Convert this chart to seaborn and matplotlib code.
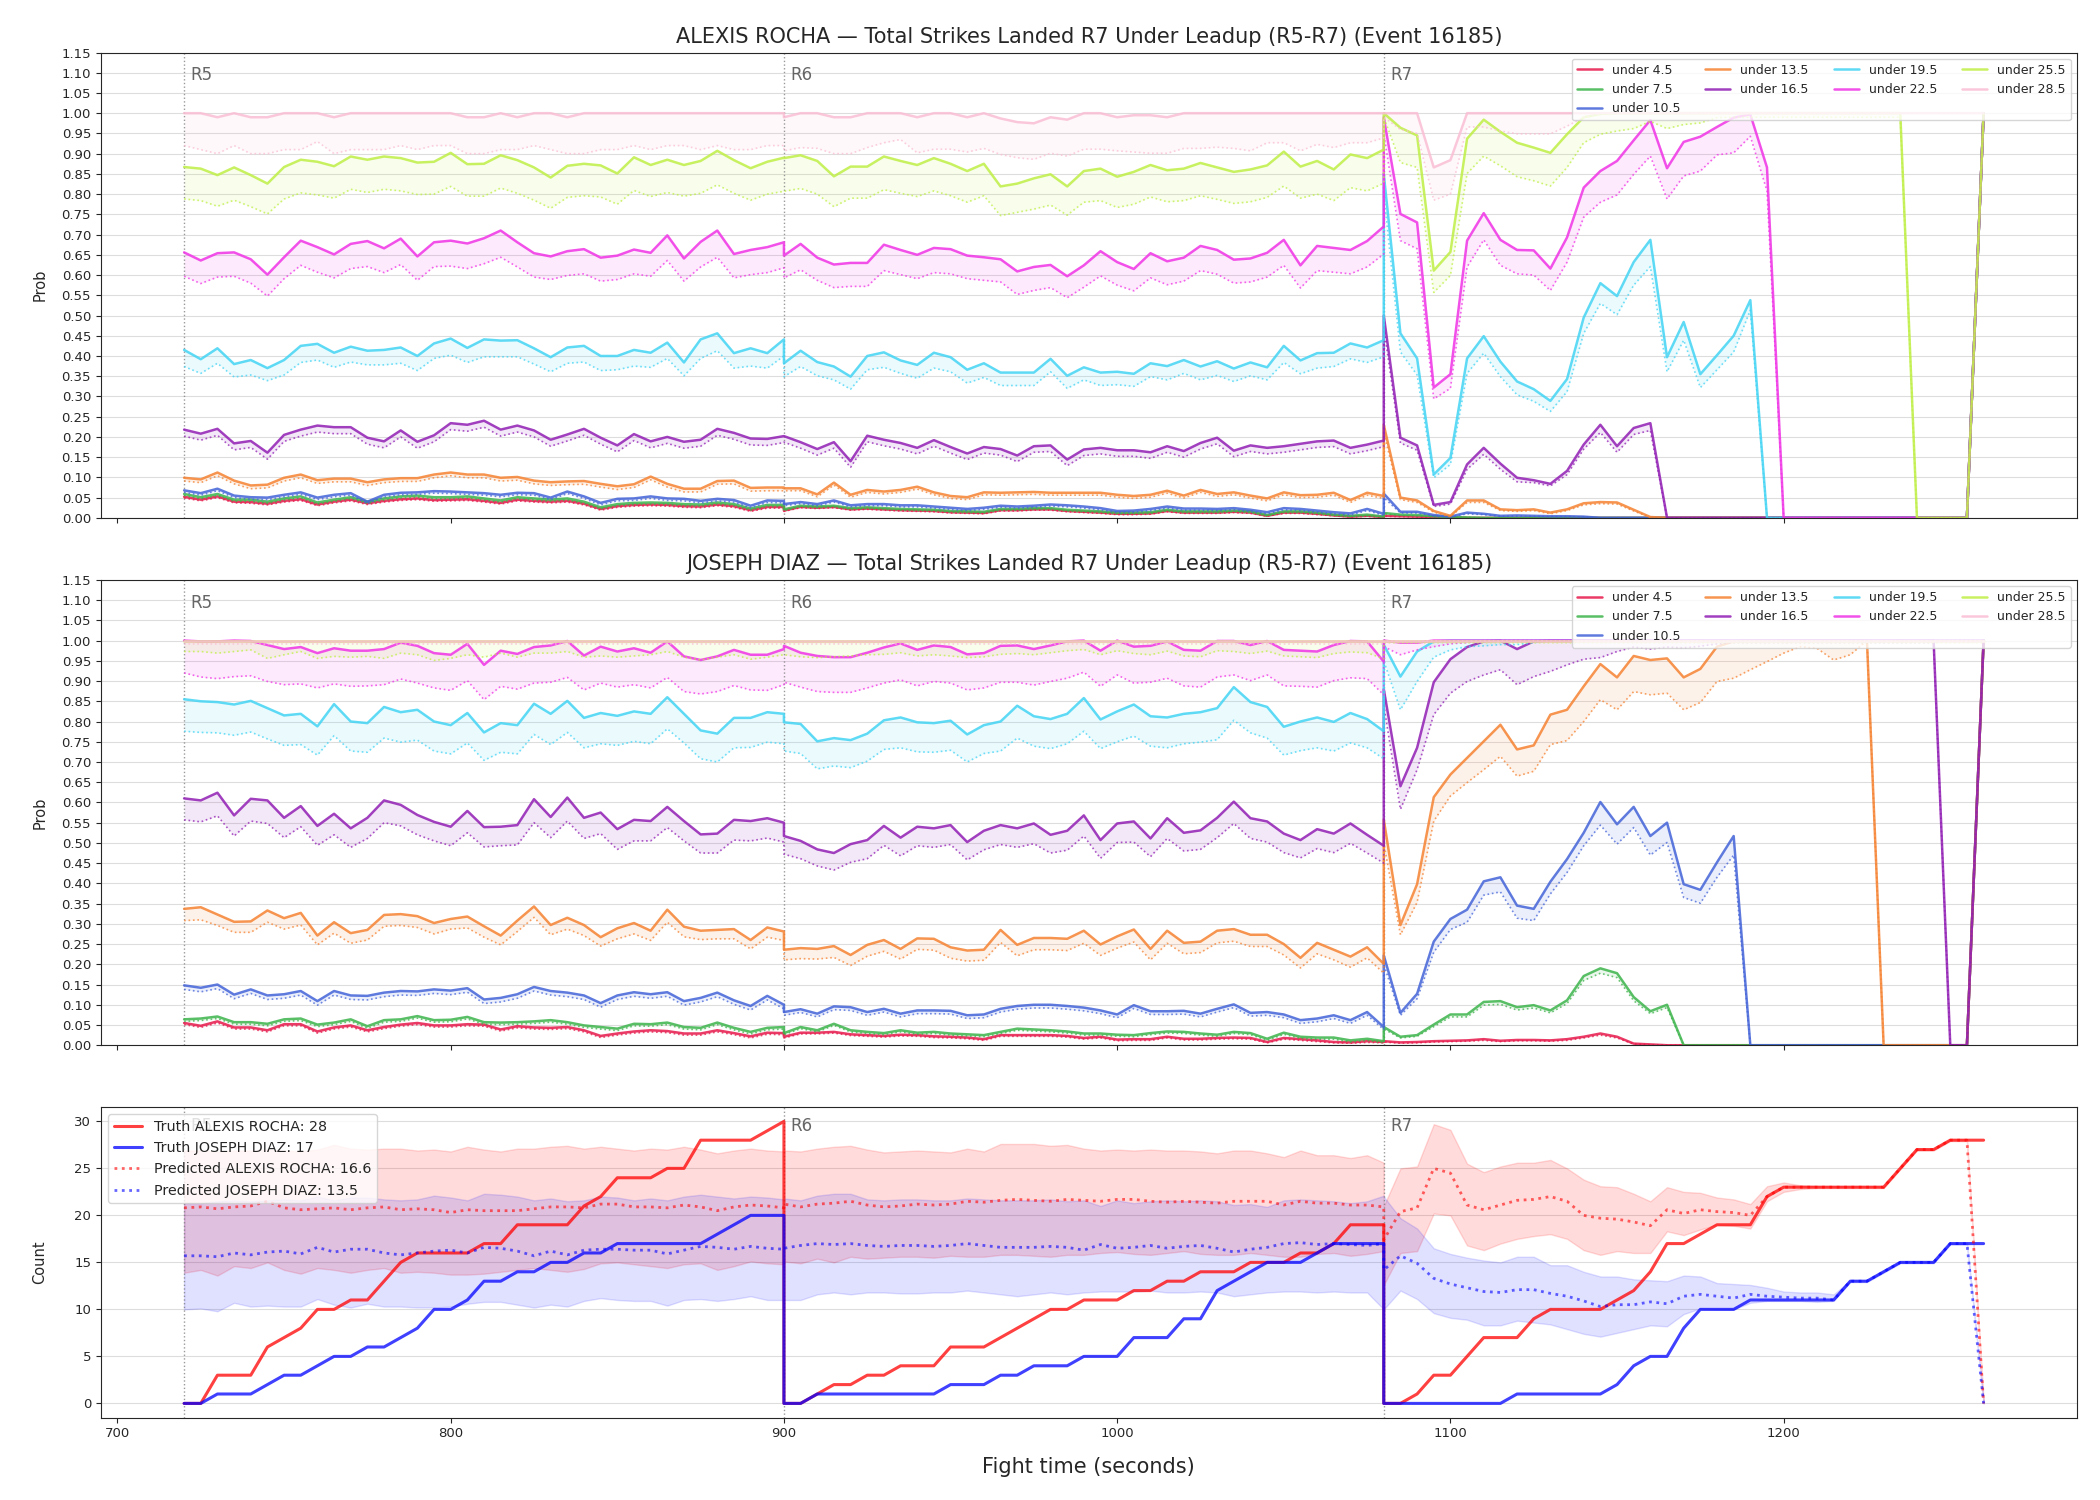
import numpy as np
import matplotlib
matplotlib.use("Agg")
import matplotlib.pyplot as plt
import matplotlib.transforms as mtransforms
import seaborn as sns

# ---------------------------------------------------------------------------
# Time grid: three rounds, one reading every 5 seconds (values in percent)
# ---------------------------------------------------------------------------
ROUND_STARTS = [720, 900, 1080]
ROUND_NAMES = ["R5", "R6", "R7"]
STEP = 5
POINTS_PER_ROUND = 37

THRESHOLDS = ["4.5", "7.5", "10.5", "13.5", "16.5", "19.5", "22.5", "25.5", "28.5"]
LINE_COLORS = ["#e6194b", "#3cb44b", "#4363d8", "#f58231", "#911eb4",
               "#42d4f4", "#f032e6", "#bfef45", "#fabed4"]

# ---------------- ALEXIS ROCHA, P(under X), solid (hi) and dotted (lo) -----
rocha_u45 = [
    [5.2, 4.5, 5.3, 4.0, 3.9, 3.5, 4.2, 4.6, 3.3, 4.0, 4.5, 3.6, 4.2, 4.6, 4.8, 4.4, 4.5, 4.6, 4.2, 3.7,
     4.5, 4.2, 4.0, 4.2, 3.5, 2.2, 2.9, 3.2, 3.3, 3.2, 2.9, 2.8, 3.3, 2.9, 1.9, 2.7, 2.7],
    [1.8, 2.7, 2.5, 2.7, 2.1, 2.3, 2.1, 1.9, 1.8, 1.7, 1.4, 1.3, 1.2, 1.9, 1.9, 2.1, 2.1, 1.7, 1.5, 1.3,
     1.0, 1.0, 1.1, 1.7, 1.3, 1.3, 1.3, 1.5, 1.3, 0.5, 1.3, 1.3, 1.0, 0.6, 0.3, 0.5, 0.2],
    [0.5, 0.4, 0.3, 0.2, 0.1,
     0, 0, 0, 0, 0, 0, 0, 0, 0, 0, 0, 0, 0, 0, 0, 0, 0, 0, 0, 0, 0, 0, 0, 0, 0, 0, 0, 0, 0, 0, 0,
     100],
]
rocha_u45_lo = [
    [4.9, 4.2, 5.0, 3.7, 3.6, 3.2, 3.9, 4.3, 3.0, 3.7, 4.2, 3.3, 3.9, 4.3, 4.5, 4.1, 4.2, 4.3, 3.9, 3.4,
     4.2, 3.9, 3.7, 3.9, 3.2, 1.9, 2.6, 2.9, 3.0, 2.9, 2.6, 2.5, 3.0, 2.6, 1.6, 2.4, 2.4],
    [1.6, 2.5, 2.3, 2.5, 1.9, 2.1, 1.9, 1.7, 1.6, 1.5, 1.2, 1.1, 1.0, 1.7, 1.7, 1.9, 1.9, 1.5, 1.3, 1.1,
     0.8, 0.8, 0.9, 1.5, 1.1, 1.1, 1.1, 1.3, 1.1, 0.4, 1.1, 1.1, 0.8, 0.5, 0.2, 0.4, 0.1],
    [0.4, 0.3, 0.2, 0.1, 0.1,
     0, 0, 0, 0, 0, 0, 0, 0, 0, 0, 0, 0, 0, 0, 0, 0, 0, 0, 0, 0, 0, 0, 0, 0, 0, 0, 0, 0, 0, 0, 0,
     100],
]
rocha_u75 = [
    [5.9, 5.1, 5.9, 4.5, 4.5, 4.0, 4.8, 5.3, 3.8, 4.5, 5.1, 4.0, 4.8, 5.3, 5.5, 5.1, 5.1, 5.3, 4.8, 4.3,
     5.1, 4.8, 4.5, 4.8, 4.0, 2.6, 3.4, 3.7, 3.8, 3.7, 3.4, 3.3, 3.8, 3.4, 2.3, 3.2, 3.2],
    [2.1, 3.0, 2.8, 3.0, 2.4, 2.6, 2.4, 2.2, 2.1, 2.0, 1.7, 1.6, 1.5, 2.2, 2.2, 2.4, 2.4, 2.0, 1.8, 1.6,
     1.3, 1.3, 1.4, 2.0, 1.6, 1.6, 1.6, 1.8, 1.6, 0.7, 1.6, 1.6, 1.3, 0.8, 0.5, 0.8, 0.3],
    [1.2, 0.8, 0.7, 0.4, 0.2, 0.1,
     0, 0, 0, 0, 0, 0, 0, 0, 0, 0, 0, 0, 0, 0, 0, 0, 0, 0, 0, 0, 0, 0, 0, 0, 0, 0, 0, 0, 0, 0,
     100],
]
rocha_u75_lo = [
    [5.5, 4.7, 5.5, 4.1, 4.1, 3.6, 4.4, 4.9, 3.4, 4.1, 4.7, 3.6, 4.4, 4.9, 5.1, 4.7, 4.7, 4.9, 4.4, 3.9,
     4.7, 4.4, 4.1, 4.4, 3.6, 2.2, 3.0, 3.3, 3.4, 3.3, 3.0, 2.9, 3.4, 3.0, 1.9, 2.8, 2.8],
    [1.8, 2.7, 2.5, 2.7, 2.1, 2.3, 2.1, 1.9, 1.8, 1.7, 1.4, 1.3, 1.2, 1.9, 1.9, 2.1, 2.1, 1.7, 1.5, 1.3,
     1.0, 1.0, 1.1, 1.7, 1.3, 1.3, 1.3, 1.5, 1.3, 0.5, 1.3, 1.3, 1.0, 0.6, 0.3, 0.5, 0.2],
    [1.0, 0.6, 0.5, 0.3, 0.1, 0.1,
     0, 0, 0, 0, 0, 0, 0, 0, 0, 0, 0, 0, 0, 0, 0, 0, 0, 0, 0, 0, 0, 0, 0, 0, 0, 0, 0, 0, 0, 0,
     100],
]
rocha_u105 = [
    [6.8, 6.1, 7.2, 5.5, 5.1, 5.0, 5.7, 6.3, 5.0, 5.7, 6.1, 4.0, 5.7, 6.2, 6.3, 6.6, 6.5, 6.3, 6.1, 5.7,
     6.2, 6.1, 5.0, 6.5, 5.3, 3.7, 4.7, 4.8, 5.3, 4.8, 4.7, 4.2, 4.7, 4.4, 3.0, 4.3, 4.2],
    [3.4, 3.9, 3.4, 4.3, 3.1, 3.4, 3.4, 3.1, 3.1, 2.8, 2.5, 2.2, 2.5, 3.0, 2.8, 3.0, 3.3, 3.1, 2.8, 2.4,
     1.7, 1.8, 2.2, 2.8, 2.3, 2.3, 2.2, 2.4, 2.0, 1.4, 2.4, 2.2, 1.8, 1.4, 1.1, 2.2, 1.0],
    [6.0, 1.5, 1.5, 0.7, 0.3, 1.3, 1.0, 0.5, 0.6, 0.5, 0.4, 0.4, 0.3,
     0, 0, 0, 0, 0, 0, 0, 0, 0, 0, 0, 0, 0, 0, 0, 0, 0, 0, 0, 0, 0, 0, 0,
     100],
]
rocha_u105_lo = [
    [6.3, 5.6, 6.7, 5.0, 4.6, 4.5, 5.2, 5.8, 4.5, 5.2, 5.6, 3.5, 5.2, 5.7, 5.8, 6.1, 6.0, 5.8, 5.6, 5.2,
     5.7, 5.6, 4.5, 6.0, 4.8, 3.2, 4.2, 4.3, 4.8, 4.3, 4.2, 3.7, 4.2, 3.9, 2.5, 3.8, 3.7],
    [3.0, 3.5, 3.0, 3.9, 2.7, 3.0, 3.0, 2.7, 2.7, 2.4, 2.1, 1.8, 2.1, 2.6, 2.4, 2.6, 2.9, 2.7, 2.4, 2.0,
     1.3, 1.4, 1.8, 2.4, 1.9, 1.9, 1.8, 2.0, 1.6, 1.0, 2.0, 1.8, 1.4, 1.0, 0.7, 1.8, 0.6],
    [5.0, 1.2, 1.2, 0.5, 0.2, 1.0, 0.8, 0.4, 0.4, 0.4, 0.3, 0.3, 0.2,
     0, 0, 0, 0, 0, 0, 0, 0, 0, 0, 0, 0, 0, 0, 0, 0, 0, 0, 0, 0, 0, 0, 0,
     100],
]
rocha_u135 = [
    [9.9, 9.5, 11.2, 9.2, 8.0, 8.2, 9.9, 10.7, 9.3, 9.7, 9.7, 8.8, 9.5, 9.8, 9.8, 10.7, 11.2, 10.7, 10.7, 9.9,
     10.1, 9.2, 8.8, 9.0, 9.1, 8.4, 7.8, 8.3, 10.2, 8.4, 7.2, 7.2, 9.1, 9.2, 7.4, 7.5, 7.5],
    [7.3, 7.3, 5.8, 8.7, 5.7, 6.9, 6.5, 6.9, 7.7, 6.3, 5.4, 5.1, 6.3, 6.2, 6.3, 6.4, 6.2, 6.2, 6.2, 6.2,
     5.7, 5.4, 5.7, 6.7, 5.5, 6.9, 5.9, 6.3, 5.5, 4.8, 6.3, 5.6, 5.7, 6.2, 4.4, 6.2, 5.4],
    [23, 5.0, 4.3, 1.7, 0.5, 4.3, 4.3, 2.1, 1.9, 2.1, 1.3, 2.1, 3.6, 3.9, 3.8, 2.0, 0.2,
     0, 0, 0, 0, 0, 0, 0, 0, 0, 0, 0, 0, 0, 0, 0, 0, 0, 0, 0,
     100],
]
rocha_u135_lo = [
    [9.1, 8.7, 10.4, 8.4, 7.2, 7.4, 9.1, 9.9, 8.5, 8.9, 8.9, 8.0, 8.7, 9.0, 9.0, 9.9, 10.4, 9.9, 9.9, 9.1,
     9.3, 8.4, 8.0, 8.2, 8.3, 7.6, 7.0, 7.5, 9.4, 7.6, 6.4, 6.4, 8.3, 8.4, 6.6, 6.7, 6.7],
    [6.7, 6.7, 5.2, 8.1, 5.1, 6.3, 5.9, 6.3, 7.1, 5.7, 4.8, 4.5, 5.7, 5.6, 5.7, 5.8, 5.6, 5.6, 5.6, 5.6,
     5.1, 4.8, 5.1, 6.1, 4.9, 6.3, 5.3, 5.7, 4.9, 4.2, 5.7, 5.0, 5.1, 5.6, 3.8, 5.6, 4.8],
    [21, 4.5, 3.8, 1.4, 0.3, 3.8, 3.8, 1.8, 1.6, 1.8, 1.0, 1.8, 3.2, 3.5, 3.4, 1.7, 0.1,
     0, 0, 0, 0, 0, 0, 0, 0, 0, 0, 0, 0, 0, 0, 0, 0, 0, 0, 0,
     100],
]
rocha_u165 = [
    [21.8, 20.8, 22.0, 18.4, 19.0, 16.1, 20.5, 21.8, 22.8, 22.4, 22.4, 19.8, 18.9, 21.6, 18.8, 20.4, 23.4,
     23.0, 24.0, 21.8, 22.8, 21.6, 19.3, 20.6, 22.0, 19.8, 17.9, 20.7, 18.9, 20.0, 18.8, 19.3, 22.0, 21.0,
     19.6, 19.5, 20.2],
    [20.2, 18.7, 17.0, 18.7, 14.0, 20.3, 19.3, 18.5, 17.3, 19.2, 17.5, 15.9, 17.5, 17.0, 15.4, 17.7, 17.9,
     14.4, 16.9, 17.3, 16.7, 16.7, 16.2, 17.7, 16.5, 18.5, 19.8, 16.6, 17.9, 17.3, 17.7, 18.3, 18.9, 19.1,
     17.3, 18.1, 19.1],
    [50, 19.8, 17.9, 3.2, 3.9, 13.2, 17.3, 13.4, 9.9, 9.3, 8.4, 11.6, 18.1, 23.0, 17.7, 22.2, 23.4,
     0, 0, 0, 0, 0, 0, 0, 0, 0, 0, 0, 0, 0, 0, 0, 0, 0, 0, 0,
     100],
]
rocha_u165_lo = [
    [20.2, 19.2, 20.4, 16.8, 17.4, 14.5, 18.9, 20.2, 21.2, 20.8, 20.8, 18.2, 17.3, 20.0, 17.2, 18.8, 21.8,
     21.4, 22.4, 20.2, 21.2, 20.0, 17.7, 19.0, 20.4, 18.2, 16.3, 19.1, 17.3, 18.4, 17.2, 17.7, 20.4, 19.4,
     18.0, 17.9, 18.6],
    [18.7, 17.2, 15.5, 17.2, 12.5, 18.8, 17.8, 17.0, 15.8, 17.7, 16.0, 14.4, 16.0, 15.5, 13.9, 16.2, 16.4,
     12.9, 15.4, 15.8, 15.2, 15.2, 14.7, 16.2, 15.0, 17.0, 18.3, 15.1, 16.4, 15.8, 16.2, 16.8, 17.4, 17.6,
     15.8, 16.6, 17.6],
    [47, 18.5, 16.7, 2.8, 3.4, 12.0, 15.7, 12.0, 8.9, 8.7, 7.9, 10.7, 17.0, 21.1, 16.2, 20.6, 21.6,
     0, 0, 0, 0, 0, 0, 0, 0, 0, 0, 0, 0, 0, 0, 0, 0, 0, 0, 0,
     100],
]
rocha_u195 = [
    [41.5, 39.2, 41.9, 38.0, 39.0, 37.0, 39.0, 42.5, 43.0, 40.8, 42.3, 41.3, 41.5, 42.1, 40.0, 43.1, 44.3,
     42.0, 44.1, 43.8, 43.9, 41.9, 39.7, 42.1, 42.5, 40.0, 40.0, 41.5, 40.8, 43.3, 38.4, 44.1, 45.6, 40.7,
     41.9, 40.7, 44.1],
    [38.2, 41.3, 38.5, 37.4, 34.9, 40.0, 40.9, 38.9, 37.8, 40.8, 39.7, 36.6, 38.2, 35.9, 35.9, 35.9, 39.3,
     35.1, 37.2, 35.9, 36.1, 35.6, 38.2, 37.5, 39.0, 37.4, 38.7, 36.9, 38.4, 37.2, 42.5, 38.9, 40.7, 40.8,
     43.1, 42.1, 43.9],
    [85, 45.6, 39.4, 10.7, 14.8, 39.4, 44.9, 38.6, 33.7, 31.8, 28.9, 34.3, 49.5, 58.0, 54.8, 63.2, 68.7,
     39.7, 48.4, 35.5, 40.2, 45.0, 53.8,
     0, 0, 0, 0, 0, 0, 0, 0, 0, 0, 0, 0, 0,
     100],
]
rocha_u195_lo = [
    [37.4, 35.7, 38.2, 34.8, 35.3, 33.9, 35.3, 38.4, 39.0, 37.2, 38.5, 37.8, 37.8, 38.2, 36.4, 39.4, 40.2,
     38.4, 39.8, 39.8, 39.8, 38.0, 36.1, 38.2, 38.5, 36.4, 36.6, 37.5, 37.2, 39.4, 35.1, 39.4, 41.3, 37.0,
     37.5, 37.0, 40.0],
    [34.9, 37.4, 35.1, 34.1, 31.8, 36.6, 37.2, 35.7, 34.5, 37.0, 36.1, 33.3, 34.7, 32.7, 32.7, 32.7, 36.1,
     32.0, 34.1, 32.7, 32.9, 32.5, 34.9, 34.1, 35.7, 34.1, 35.2, 33.7, 35.1, 34.1, 38.4, 35.6, 37.0, 37.4,
     39.3, 38.4, 39.8],
    [80, 41.0, 35.3, 9.9, 13.2, 35.7, 40.7, 34.9, 30.4, 28.8, 26.3, 31.2, 45.6, 53.0, 50.2, 57.5, 62.1,
     36.1, 43.9, 32.2, 36.6, 41.0, 51.3,
     0, 0, 0, 0, 0, 0, 0, 0, 0, 0, 0, 0, 0,
     100],
]
rocha_u225 = [
    [65.6, 63.6, 65.4, 65.6, 63.9, 60.1, 64.4, 68.5, 66.9, 65.1, 67.7, 68.4, 66.6, 69.0, 64.6, 68.1, 68.5,
     67.8, 69.1, 71.0, 68.1, 65.4, 64.6, 65.9, 66.4, 64.3, 64.8, 66.3, 65.5, 69.8, 64.1, 68.2, 71.0, 65.2,
     66.2, 66.9, 68.1],
    [64.8, 67.7, 64.3, 62.6, 63.0, 63.0, 67.5, 66.2, 65.0, 66.7, 66.4, 64.8, 64.4, 63.9, 60.9, 62.0, 62.5,
     59.7, 62.4, 65.9, 63.2, 61.5, 65.4, 63.4, 64.3, 67.2, 66.2, 63.8, 64.1, 65.5, 68.7, 62.4, 67.2, 66.7,
     66.2, 68.4, 72.0],
    [99, 75.1, 73.0, 32.2, 35.5, 68.5, 75.3, 68.7, 66.2, 66.1, 61.6, 69.3, 81.6, 85.7, 88.2, 93.3, 98.3,
     86.4, 92.9, 94.2, 96.6, 98.9, 99.7, 86.6,
     0, 0, 0, 0, 0, 0, 0, 0, 0, 0, 0, 0,
     100],
]
rocha_u225_lo = [
    [59.7, 57.9, 59.5, 59.7, 58.0, 54.8, 59.1, 62.4, 60.7, 59.3, 61.6, 62.1, 60.6, 62.6, 58.7, 62.1, 62.2,
     61.6, 62.8, 64.4, 62.0, 59.5, 58.9, 59.9, 60.3, 58.5, 58.9, 60.3, 59.7, 63.6, 58.5, 62.0, 64.4, 59.3,
     60.1, 60.6, 61.8],
    [59.3, 61.3, 58.7, 56.9, 57.2, 57.2, 61.1, 60.1, 59.1, 60.6, 60.3, 59.1, 58.7, 58.3, 55.2, 56.2, 56.9,
     54.4, 57.0, 59.8, 57.5, 56.1, 59.3, 57.6, 58.5, 61.1, 60.2, 58.0, 58.3, 59.5, 62.4, 56.8, 61.1, 60.7,
     60.3, 62.0, 65.2],
    [95, 68.5, 66.5, 29.4, 32.0, 62.0, 68.7, 62.4, 60.3, 60.0, 56.2, 63.2, 74.3, 78.0, 79.8, 84.9, 89.4,
     78.8, 84.5, 85.7, 89.7, 90.2, 94.3, 80.8,
     0, 0, 0, 0, 0, 0, 0, 0, 0, 0, 0, 0,
     100],
]
rocha_u255 = [
    [86.7, 86.3, 84.7, 86.6, 84.7, 82.6, 86.7, 88.5, 88.0, 86.9, 89.3, 88.5, 89.3, 88.9, 87.8, 88.0, 90.2,
     87.4, 87.5, 89.6, 88.4, 86.6, 84.1, 87.0, 87.5, 87.1, 85.1, 89.1, 87.2, 88.5, 87.2, 88.2, 90.7, 88.4,
     86.4, 88.0, 89.0],
    [88.9, 89.6, 88.2, 84.4, 86.8, 86.8, 89.3, 88.2, 87.2, 88.9, 87.5, 85.7, 87.5, 81.9, 82.6, 83.9, 84.9,
     81.9, 85.7, 86.3, 84.3, 85.5, 87.2, 85.9, 86.3, 87.7, 86.6, 85.5, 86.1, 87.1, 90.5, 86.8, 88.2, 86.1,
     89.8, 88.9, 91.0],
    [100, 96.4, 94.5, 61.1, 65.7, 93.7, 98.4, 95.4, 92.7, 91.5, 90.2, 94.8, 99.0, 99.8,
     100, 100, 100, 100, 100, 100, 100, 100, 100, 100, 100, 100, 100, 100, 100, 100, 100, 100,
     0, 0, 0, 0,
     100],
]
rocha_u255_lo = [
    [78.8, 78.4, 77.0, 78.5, 76.9, 75.1, 78.8, 80.3, 79.8, 79.0, 81.2, 80.4, 81.2, 80.8, 79.9, 80.0, 81.9,
     79.5, 79.5, 81.5, 80.2, 78.5, 76.5, 79.2, 79.6, 79.3, 77.5, 80.9, 79.4, 80.4, 79.5, 80.2, 82.3, 80.2,
     78.5, 80.0, 80.7],
    [80.7, 81.4, 80.0, 76.9, 79.0, 79.0, 81.1, 80.2, 79.4, 80.8, 79.6, 78.0, 79.6, 74.7, 75.5, 76.3, 77.3,
     74.8, 78.0, 78.4, 76.7, 77.5, 79.3, 78.1, 78.4, 79.6, 78.7, 77.7, 78.1, 79.2, 82.0, 79.0, 80.0, 78.4,
     81.6, 80.8, 82.7],
    [99, 87.8, 86.6, 55.7, 59.9, 85.1, 89.4, 87.0, 84.3, 83.3, 82.0, 86.6, 92.7, 94.8, 95.6, 96.2, 98.0,
     96.2, 97.2, 97.6, 98.9, 99, 99, 99, 99, 99, 99, 99, 99, 99, 99, 99,
     0, 0, 0, 0,
     100],
]
rocha_u285 = [
    [100, 100, 99, 100, 99, 99, 100, 100, 100, 99, 100, 100, 100, 100, 100, 100, 100, 99, 99, 100,
     99, 100, 100, 99, 100, 100, 100, 100, 100, 100, 100, 100, 100, 100, 100, 100, 100],
    [99, 100, 100, 99, 99, 100, 100, 100, 99, 100, 100, 99, 100, 98.7, 97.8, 97.5, 99, 98.4, 100, 100,
     99, 99.5, 99.5, 99, 100, 100, 100, 100, 100, 100, 100, 100, 100, 100, 100, 100, 100],
    [100, 100, 100, 86.6, 88.4, 100, 100, 100, 100, 100, 100, 100, 100, 100, 100, 100, 100, 100, 100, 100,
     100, 100, 100, 100, 100, 100, 100, 100, 100, 100, 100, 100, 100, 100, 100, 100, 100],
]
rocha_u285_lo = [
    [92, 91, 90, 92, 90, 90, 91, 91, 93, 90, 91, 91, 91, 92, 91, 92, 92, 90, 90, 91,
     91, 92, 91, 90, 90, 91, 91, 92, 91, 92, 92, 91, 92, 91, 91, 92, 92],
    [90.7, 91.5, 91.3, 90, 90, 91.5, 92.7, 93.5, 90.2, 91.1, 91.1, 90.4, 91.3, 89.8, 89, 88.6, 90.1, 89.4,
     91.1, 91.1, 90.7, 90.4, 90.1, 90.1, 91.3, 91.3, 91.6, 91.3, 90.7, 92.7, 92.7, 90.7, 92.3, 91.5, 92.7,
     92.7, 93.9],
    [99, 96, 95, 78.5, 80, 96.6, 96.6, 95.6, 94.9, 94.9, 94.9, 96.8, 99,
     100, 100, 100, 100, 100, 100, 100, 100, 100, 100, 100, 100, 100, 100, 100, 100, 100, 100, 100, 100,
     100, 100, 100, 100],
]

# ---------------- JOSEPH DIAZ, P(under X) ----------------------------------
diaz_u45 = [
    [5.5, 4.8, 5.9, 4.4, 4.4, 3.7, 5.2, 5.2, 3.4, 4.4, 4.9, 3.7, 4.5, 5.1, 5.5, 4.9, 4.9, 5.2, 5.1, 3.9,
     4.7, 4.4, 4.3, 4.5, 3.7, 2.3, 2.9, 3.4, 3.7, 3.5, 2.9, 2.9, 3.7, 3.0, 2.2, 3.1, 3.0],
    [2.1, 3.1, 3.1, 3.3, 2.7, 2.5, 2.3, 2.6, 2.5, 2.2, 2.1, 1.9, 1.5, 2.5, 2.5, 2.5, 2.5, 2.3, 1.8, 2.1,
     1.4, 1.5, 1.5, 2.1, 1.6, 1.6, 1.8, 1.9, 1.8, 0.8, 1.8, 1.5, 1.2, 0.8, 0.7, 1.0, 0.8],
    [1.0, 0.7, 0.8, 1.0, 1.1, 1.2, 1.5, 1.1, 1.3, 1.3, 1.2, 1.5, 2.1, 2.9, 2.1, 0.4, 0.2,
     0, 0, 0, 0, 0, 0, 0, 0, 0, 0, 0, 0, 0, 0, 0, 0, 0, 0, 0,
     100],
]
diaz_u45_lo = [
    [5.1, 4.4, 5.5, 4.0, 4.0, 3.3, 4.8, 4.8, 3.0, 4.0, 4.5, 3.3, 4.1, 4.7, 5.1, 4.5, 4.5, 4.8, 4.7, 3.5,
     4.3, 4.0, 3.9, 4.1, 3.3, 1.9, 2.5, 3.0, 3.3, 3.1, 2.5, 2.5, 3.3, 2.6, 1.8, 2.7, 2.6],
    [1.8, 2.8, 2.8, 3.0, 2.4, 2.2, 2.0, 2.3, 2.2, 1.9, 1.8, 1.6, 1.2, 2.2, 2.2, 2.2, 2.2, 2.0, 1.5, 1.8,
     1.1, 1.2, 1.2, 1.8, 1.3, 1.3, 1.5, 1.6, 1.5, 0.6, 1.5, 1.2, 0.9, 0.6, 0.5, 0.7, 0.6],
    [0.8, 0.5, 0.6, 0.8, 0.9, 1.0, 1.2, 0.9, 1.1, 1.1, 1.0, 1.2, 1.8, 2.5, 1.8, 0.3, 0.1,
     0, 0, 0, 0, 0, 0, 0, 0, 0, 0, 0, 0, 0, 0, 0, 0, 0, 0, 0,
     100],
]
diaz_u75 = [
    [6.4, 6.6, 7.1, 5.7, 5.7, 5.3, 6.4, 6.6, 5.1, 5.6, 6.4, 4.7, 6.2, 6.4, 7.2, 6.2, 6.3, 7.0, 5.7, 5.6,
     5.7, 5.9, 6.2, 5.7, 4.9, 4.5, 4.1, 5.3, 5.2, 5.6, 4.5, 4.3, 5.6, 4.3, 3.3, 4.3, 4.5],
    [3.0, 4.5, 3.7, 5.3, 3.7, 3.3, 3.0, 3.7, 3.1, 3.3, 2.9, 2.7, 2.5, 3.3, 4.1, 3.9, 3.7, 3.4, 2.9, 2.9,
     2.6, 2.5, 3.0, 3.4, 3.3, 2.9, 2.6, 3.3, 3.0, 1.6, 3.1, 2.1, 1.9, 1.9, 1.2, 1.6, 1.0],
    [4.5, 2.1, 2.5, 5.1, 7.6, 7.6, 10.7, 10.9, 9.4, 9.9, 8.6, 11.1, 17.1, 19.0, 17.8, 11.9, 8.4, 10.0,
     0, 0, 0, 0, 0, 0, 0, 0, 0, 0, 0, 0, 0, 0, 0, 0, 0, 0,
     100],
]
diaz_u75_lo = [
    [5.9, 6.1, 6.6, 5.2, 5.2, 4.8, 5.9, 6.1, 4.6, 5.1, 5.9, 4.2, 5.7, 5.9, 6.7, 5.7, 5.8, 6.5, 5.2, 5.1,
     5.2, 5.4, 5.7, 5.2, 4.4, 4.0, 3.6, 4.8, 4.7, 5.1, 4.0, 3.8, 5.1, 3.8, 2.8, 3.8, 4.0],
    [2.6, 4.1, 3.3, 4.9, 3.3, 2.9, 2.6, 3.3, 2.7, 2.9, 2.5, 2.3, 2.1, 2.9, 3.7, 3.5, 3.3, 3.0, 2.5, 2.5,
     2.2, 2.1, 2.6, 3.0, 2.9, 2.5, 2.2, 2.9, 2.6, 1.2, 2.7, 1.7, 1.5, 1.5, 0.8, 1.2, 0.6],
    [4.0, 1.8, 2.2, 4.6, 7.0, 7.0, 9.9, 10.1, 8.7, 9.2, 8.0, 10.3, 16.0, 17.8, 16.7, 11.0, 7.8, 9.3,
     0, 0, 0, 0, 0, 0, 0, 0, 0, 0, 0, 0, 0, 0, 0, 0, 0, 0,
     100],
]
diaz_u105 = [
    [14.8, 14.2, 15.0, 12.5, 13.8, 12.3, 12.6, 13.4, 10.9, 13.4, 12.3, 12.2, 13.0, 13.4, 13.3, 13.8, 13.5,
     14.1, 11.3, 11.7, 12.6, 14.4, 13.4, 13.0, 12.3, 10.4, 12.3, 13.1, 12.6, 13.1, 10.9, 11.7, 13.0, 11.1,
     9.7, 12.2, 10.0],
    [8.2, 8.9, 7.8, 9.6, 9.4, 8.2, 9.0, 7.8, 8.6, 8.6, 8.5, 7.4, 7.6, 9.0, 9.7, 10.0, 10.0, 9.7, 9.3, 8.6,
     7.6, 9.9, 8.4, 8.4, 8.5, 7.8, 9.0, 10.1, 8.0, 8.2, 7.6, 6.2, 6.6, 7.4, 6.2, 8.2, 4.5],
    [22.2, 8.0, 12.7, 25.6, 31.2, 33.5, 40.5, 41.5, 34.5, 33.7, 40.4, 46.0, 52.5, 60.1, 54.6, 58.9, 51.7,
     55.0, 39.8, 38.4, 45.2, 51.7,
     0, 0, 0, 0, 0, 0, 0, 0, 0, 0, 0, 0, 0, 0,
     100],
]
diaz_u105_lo = [
    [13.8, 13.2, 14.0, 11.5, 12.8, 11.3, 11.6, 12.4, 9.9, 12.4, 11.3, 11.2, 12.0, 12.4, 12.3, 12.8, 12.5,
     13.1, 10.3, 10.7, 11.6, 13.4, 12.4, 12.0, 11.3, 9.4, 11.3, 12.1, 11.6, 12.1, 9.9, 10.7, 12.0, 10.1,
     8.7, 11.2, 9.0],
    [7.4, 8.1, 7.0, 8.8, 8.6, 7.4, 8.2, 7.0, 7.8, 7.8, 7.7, 6.6, 6.8, 8.2, 8.9, 9.2, 9.2, 8.9, 8.5, 7.8,
     6.8, 9.1, 7.6, 7.6, 7.7, 7.0, 8.2, 9.3, 7.2, 7.4, 6.8, 5.4, 5.8, 6.6, 5.4, 7.4, 3.9],
    [20.0, 7.4, 11.5, 23.0, 28.6, 30.4, 37.1, 37.9, 31.4, 30.8, 37.4, 42.7, 49.3, 54.4, 49.7, 53.8, 47.0,
     50.1, 36.5, 35.1, 41.5, 47.0,
     0, 0, 0, 0, 0, 0, 0, 0, 0, 0, 0, 0, 0, 0,
     100],
]
diaz_u135 = [
    [33.7, 34.1, 32.3, 30.5, 30.6, 33.3, 31.4, 32.7, 27.1, 30.4, 27.7, 28.5, 32.2, 32.4, 31.9, 30.2, 31.2,
     31.8, 29.4, 27.1, 30.8, 34.3, 29.7, 31.5, 29.7, 26.7, 28.9, 30.2, 28.3, 33.5, 29.3, 28.3, 28.5, 28.7,
     26.0, 29.1, 28.1],
    [23.6, 24.0, 23.8, 24.5, 22.3, 24.8, 26.0, 23.8, 26.4, 26.3, 24.2, 23.4, 23.6, 28.5, 24.8, 26.5, 26.5,
     26.3, 28.3, 24.9, 26.9, 28.6, 23.8, 28.3, 25.3, 25.6, 28.3, 28.7, 27.3, 27.3, 25.0, 21.6, 25.3, 23.6,
     21.9, 24.2, 20.1],
    [55.8, 29.7, 39.8, 61.3, 66.9, 71.0, 75.1, 79.2, 73.1, 74.1, 81.7, 82.9, 88.7, 94.2, 90.9, 96.2, 95.2,
     95.6, 90.9, 93.0, 98.5, 99.8, 100, 100, 100, 100, 100, 100, 100, 100,
     0, 0, 0, 0, 0, 0,
     100],
]
diaz_u135_lo = [
    [30.8, 31.0, 29.6, 27.9, 27.9, 30.4, 28.7, 29.7, 24.8, 27.7, 25.2, 26.0, 29.4, 29.6, 29.1, 27.5, 28.7,
     29.0, 26.7, 24.8, 28.1, 31.6, 27.3, 28.7, 27.1, 24.5, 26.3, 27.5, 25.9, 30.4, 26.8, 26.1, 26.3, 26.3,
     23.8, 26.7, 25.9],
    [21.1, 21.4, 21.3, 21.7, 19.7, 22.0, 23.2, 21.3, 23.7, 23.5, 21.5, 20.8, 21.0, 25.4, 22.1, 23.6, 23.6,
     23.4, 25.2, 22.2, 24.0, 25.5, 21.1, 25.2, 22.6, 22.9, 25.3, 25.7, 24.4, 24.4, 22.3, 19.1, 22.6, 21.1,
     19.3, 21.6, 17.8],
    [50.0, 27.3, 35.3, 55.4, 61.6, 64.9, 68.1, 71.4, 66.5, 67.7, 74.3, 75.3, 80.0, 85.4, 82.9, 87.4, 86.6,
     87.0, 82.9, 84.7, 89.9, 90.7, 92.8, 94.8, 96.9, 98.5, 98.1, 95.2, 96.5, 100,
     0, 0, 0, 0, 0, 0,
     100],
]
diaz_u165 = [
    [61.0, 60.5, 62.4, 56.8, 60.9, 60.5, 56.2, 59.1, 54.2, 57.2, 53.6, 56.2, 60.5, 59.4, 56.9, 55.2, 54.0,
     57.9, 53.9, 54.0, 54.4, 60.8, 56.4, 61.2, 56.2, 57.5, 53.4, 55.7, 55.4, 58.9, 55.4, 52.1, 52.3, 55.7,
     55.4, 56.1, 55.0],
    [51.7, 50.5, 48.4, 47.5, 49.7, 50.7, 54.2, 51.3, 54.0, 53.6, 54.4, 50.2, 53.0, 54.4, 53.6, 54.8, 52.0,
     53.0, 56.8, 50.7, 54.8, 55.3, 51.1, 56.1, 52.5, 53.1, 56.2, 60.2, 56.1, 55.3, 52.3, 50.7, 53.4, 52.3,
     54.8, 52.0, 49.3],
    [88, 64.0, 73.5, 89.7, 95.4, 98.4, 99.8, 100, 97.9, 99.8,
     100, 100, 100, 100, 100, 100, 100, 100, 100, 100, 100, 100, 100, 100, 100, 100, 100, 100, 100, 100,
     100, 100, 100, 100,
     0, 0,
     100],
]
diaz_u165_lo = [
    [55.7, 55.2, 56.7, 51.7, 55.4, 54.8, 51.3, 54.0, 49.4, 52.0, 48.9, 51.1, 55.0, 54.2, 52.0, 50.5, 49.3,
     52.5, 49.0, 49.3, 49.5, 55.0, 51.3, 55.4, 51.1, 52.3, 48.4, 50.5, 50.5, 53.8, 50.5, 47.5, 47.5, 50.7,
     50.5, 51.2, 50.2],
    [47.2, 46.1, 44.3, 43.3, 45.2, 46.1, 49.4, 46.8, 49.3, 48.9, 49.6, 45.8, 48.3, 49.6, 48.9, 49.8, 47.5,
     48.2, 51.7, 46.2, 50.1, 50.2, 46.6, 51.1, 48.0, 48.4, 51.3, 54.8, 51.1, 50.2, 47.6, 46.3, 48.6, 47.6,
     49.9, 47.5, 45.0],
    [84, 58.3, 68.1, 81.7, 87.0, 89.9, 91.5, 92.8, 89.1, 91.1, 92.4, 94.0, 95.4, 95.8, 97.3, 98.4, 97.9,
     98.4, 98.2, 98.6, 99.2, 99.5, 99.5, 99.5, 99.5, 99.5, 99.5, 99.5, 99.5, 99.5, 99.5, 99.5, 99.5, 99.5,
     0, 0,
     100],
]
diaz_u195 = [
    [85.5, 85.0, 84.8, 84.2, 85.1, 83.3, 81.5, 81.9, 78.8, 84.3, 80.0, 79.6, 83.6, 82.3, 82.9, 80.0, 79.1,
     82.1, 77.3, 79.6, 79.1, 84.4, 81.9, 85.1, 80.9, 82.1, 81.4, 82.5, 81.9, 86.0, 81.9, 77.8, 77.0, 80.9,
     80.9, 82.3, 81.9],
    [79.8, 79.4, 75.1, 75.9, 75.4, 77.0, 80.3, 81.0, 79.8, 79.6, 80.2, 76.8, 79.1, 80.0, 83.9, 81.3, 80.6,
     81.9, 85.8, 80.5, 82.5, 84.2, 81.3, 81.0, 81.9, 82.3, 83.3, 88.5, 84.8, 83.6, 78.7, 80.0, 81.0, 79.9,
     82.1, 80.6, 77.6],
    [99, 91.1, 97.3, 99.8, 100, 100, 100, 100, 100, 100, 100, 100, 100, 100, 100, 100, 100, 100, 100, 100,
     100, 100, 100, 100, 100, 100, 100, 100, 100, 100, 100, 100, 100, 100, 100, 100, 100],
]
diaz_u195_lo = [
    [77.6, 77.3, 77.2, 76.6, 77.4, 75.7, 74.1, 74.3, 71.7, 76.5, 72.7, 72.4, 75.9, 74.9, 75.4, 72.7, 72.0,
     74.7, 70.4, 72.4, 72.0, 76.8, 74.3, 77.3, 73.5, 74.5, 74.1, 75.1, 74.5, 78.2, 74.7, 70.8, 70.0, 73.5,
     73.6, 74.9, 74.5],
    [72.7, 72.1, 68.3, 69.0, 68.6, 70.2, 73.1, 73.5, 72.5, 72.4, 72.9, 70.0, 72.1, 72.7, 75.9, 73.9, 73.3,
     74.5, 77.6, 73.3, 75.0, 76.4, 73.9, 73.5, 74.5, 74.9, 75.5, 80.3, 77.2, 75.9, 71.7, 72.8, 73.5, 72.7,
     74.7, 73.5, 70.8],
    [95, 82.9, 89.9, 95.9, 97.7, 98.5, 98.7, 99, 99, 99.5, 100, 100, 100, 100, 100, 100, 100, 100, 100, 100,
     100, 100, 100, 100, 100, 100, 100, 100, 100, 100, 100, 100, 100, 100, 100, 100, 100],
]
diaz_u225 = [
    [100, 99.8, 99.8, 100, 99.9, 98.9, 97.9, 98.4, 96.9, 98.1, 97.5, 97.5, 97.9, 99.5, 98.7, 96.9, 96.5,
     99.2, 94.0, 97.5, 96.7, 98.4, 98.8, 99.9, 96.3, 98.5, 97.3, 98.1, 97.0, 99.8, 96.1, 95.2, 96.1, 97.7,
     96.5, 96.5, 97.9],
    [98.7, 97.0, 96.2, 95.9, 95.9, 97.0, 98.3, 99.3, 97.7, 98.8, 98.4, 96.6, 96.9, 98.7, 98.8, 97.9, 98.8,
     99.8, 100, 97.5, 100, 98.5, 98.7, 99.8, 97.7, 97.5, 99.9, 99.9, 98.9, 99.9, 97.7, 97.5, 97.3, 98.9,
     99.9, 99.8, 94.8],
    [100, 99.5, 99.5, 100, 100, 100, 100, 100, 100, 100, 100, 100, 100, 100, 100, 100, 100, 100, 100, 100,
     100, 100, 100, 100, 100, 100, 100, 100, 100, 100, 100, 100, 100, 100, 100, 100, 100],
]
diaz_u225_lo = [
    [92.0, 91.0, 90.6, 91.1, 91.3, 89.9, 89.1, 89.3, 88.3, 89.3, 88.7, 88.8, 89.1, 90.5, 89.5, 88.3, 87.7,
     90.1, 85.4, 88.7, 88.0, 89.5, 89.7, 90.9, 87.8, 89.5, 88.5, 89.1, 88.3, 90.9, 87.4, 86.8, 87.4, 88.9,
     87.8, 87.7, 89.1],
    [89.7, 88.5, 87.4, 87.2, 87.2, 88.3, 89.5, 90.3, 88.8, 89.9, 89.5, 87.8, 88.3, 89.7, 89.7, 89.0, 89.9,
     90.7, 92.2, 88.7, 91.5, 89.5, 89.7, 90.7, 88.8, 88.5, 91.0, 91.5, 90.1, 91.5, 88.8, 88.7, 88.5, 90.1,
     90.8, 90.6, 86.6],
    [98.5, 96.5, 97.7, 98.5, 99.2, 99.5, 100, 100, 100, 100, 100, 100, 100, 100, 100, 100, 100, 100, 100,
     100, 100, 100, 100, 100, 100, 100, 100, 100, 100, 100, 100, 100, 100, 100, 100, 100, 100],
]
diaz_u255 = [
    [100, 100, 100, 100, 100, 100, 100, 100, 100, 100, 100, 100, 100, 100, 100, 100, 100, 100, 100, 100,
     100, 100, 100, 100, 100, 100, 100, 100, 100, 100, 100, 100, 100, 100, 100, 100, 100],
    [100, 100, 100, 100, 100, 100, 100, 100, 100, 100, 100, 100, 100, 100, 100, 100, 100, 100, 100, 100,
     100, 100, 100, 100, 100, 100, 100, 100, 100, 100, 100, 100, 100, 100, 100, 100, 100],
    [100, 100, 100, 100, 100, 100, 100, 100, 100, 100, 100, 100, 100, 100, 100, 100, 100, 100, 100, 100,
     100, 100, 100, 100, 100, 100, 100, 100, 100, 100, 100, 100, 100, 100, 100, 100, 100],
]
diaz_u255_lo = [
    [97.3, 97.3, 96.9, 97.3, 97.7, 95.6, 96.5, 97.3, 95.6, 96.1, 95.9, 96.1, 95.6, 96.9, 96.5, 95.1, 95.6,
     96.5, 95.9, 96.9, 95.9, 96.9, 96.9, 97.3, 95.9, 96.2, 95.9, 96.2, 96.5, 97.3, 95.9, 95.2, 95.9, 96.5,
     95.4, 95.9, 96.5],
    [96.5, 96.0, 95.8, 96.0, 96.2, 96.5, 96.6, 97.0, 96.2, 96.5, 96.2, 95.8, 96.0, 96.6, 96.8, 96.5, 97.0,
     97.5, 97.8, 96.5, 97.5, 96.8, 96.5, 97.4, 96.2, 96.0, 97.5, 97.3, 96.8, 97.4, 96.2, 96.0, 95.8, 96.8,
     97.2, 97.0, 95.5],
    [99.5, 99.5, 99.5, 99.5, 99.5, 99.5, 99.5, 99.5, 99.5, 99.5, 99.5, 99.5, 99.5, 99.5, 99.5, 99.5, 99.5,
     99.5, 99.5, 99.5, 99.5, 99.5, 99.5, 99.5, 99.5, 99.5, 99.5, 99.5, 99.5, 99.5, 99.5, 99.5, 99.5, 99.5,
     99.5, 99.5, 99.5],
]
diaz_u285 = [
    [100, 100, 100, 100, 100, 100, 100, 100, 100, 100, 100, 100, 100, 100, 100, 100, 100, 100, 100, 100,
     100, 100, 100, 100, 100, 100, 100, 100, 100, 100, 100, 100, 100, 100, 100, 100, 100],
    [100, 100, 100, 100, 100, 100, 100, 100, 100, 100, 100, 100, 100, 100, 100, 100, 100, 100, 100, 100,
     100, 100, 100, 100, 100, 100, 100, 100, 100, 100, 100, 100, 100, 100, 100, 100, 100],
    [100, 100, 100, 100, 100, 100, 100, 100, 100, 100, 100, 100, 100, 100, 100, 100, 100, 100, 100, 100,
     100, 100, 100, 100, 100, 100, 100, 100, 100, 100, 100, 100, 100, 100, 100, 100, 100],
]
diaz_u285_lo = [
    [99.2, 99.2, 99.2, 99.2, 99.2, 99.2, 99.2, 99.2, 99.2, 99.2, 99.2, 99.2, 99.2, 99.2, 99.2, 99.2, 99.2,
     99.2, 99.2, 99.2, 99.2, 99.2, 99.2, 99.2, 99.2, 99.2, 99.2, 99.2, 99.2, 99.2, 99.2, 99.2, 99.2, 99.2,
     99.2, 99.2, 99.2],
    [99.2, 99.2, 99.2, 99.2, 99.2, 99.2, 99.2, 99.2, 99.2, 99.2, 99.2, 99.2, 99.2, 99.2, 99.2, 99.2, 99.2,
     99.2, 99.2, 99.2, 99.2, 99.2, 99.2, 99.2, 99.2, 99.2, 99.2, 99.2, 99.2, 99.2, 99.2, 99.2, 99.2, 99.2,
     99.2, 99.2, 99.2],
    [99.8, 99.8, 99.8, 99.8, 99.8, 99.8, 99.8, 99.8, 99.8, 99.8, 99.8, 99.8, 99.8, 99.8, 99.8, 99.8, 99.8,
     99.8, 99.8, 99.8, 99.8, 99.8, 99.8, 99.8, 99.8, 99.8, 99.8, 99.8, 99.8, 99.8, 99.8, 99.8, 99.8, 99.8,
     99.8, 99.8, 99.8],
]

# ---------------- cumulative counts ----------------------------------------
truth_rocha = [
    [0, 0, 3, 3, 3, 6, 7, 8, 10, 10, 11, 11, 13, 15, 16, 16, 16, 16, 17, 17,
     19, 19, 19, 19, 21, 22, 24, 24, 24, 25, 25, 28, 28, 28, 28, 29, 30],
    [0, 0, 1, 2, 2, 3, 3, 4, 4, 4, 6, 6, 6, 7, 8, 9, 10, 10, 11, 11,
     11, 12, 12, 13, 13, 14, 14, 14, 15, 15, 15, 16, 16, 17, 19, 19, 19],
    [0, 0, 1, 3, 3, 5, 7, 7, 7, 9, 10, 10, 10, 10, 11, 12, 14, 17, 17, 18,
     19, 19, 19, 22, 23, 23, 23, 23, 23, 23, 23, 25, 27, 27, 28, 28, 28],
]
truth_diaz = [
    [0, 0, 1, 1, 1, 2, 3, 3, 4, 5, 5, 6, 6, 7, 8, 10, 10, 11, 13, 13,
     14, 14, 15, 15, 16, 16, 17, 17, 17, 17, 17, 17, 18, 19, 20, 20, 20],
    [0, 0, 1, 1, 1, 1, 1, 1, 1, 1, 2, 2, 2, 3, 3, 4, 4, 4, 5, 5,
     5, 7, 7, 7, 9, 9, 12, 13, 14, 15, 15, 15, 16, 17, 17, 17, 17],
    [0, 0, 0, 0, 0, 0, 0, 0, 1, 1, 1, 1, 1, 1, 2, 4, 5, 5, 8, 10,
     10, 10, 11, 11, 11, 11, 11, 11, 13, 13, 14, 15, 15, 15, 17, 17, 17],
]
pred_rocha = [
    [20.8, 20.9, 20.7, 20.9, 21.0, 21.5, 20.8, 20.6, 20.7, 20.8, 20.6, 20.8, 20.9, 20.6, 20.7, 20.6, 20.3,
     20.6, 20.5, 20.5, 20.5, 20.7, 20.9, 20.9, 20.8, 21.2, 21.2, 20.9, 20.9, 20.8, 21.1, 20.9, 20.5, 20.9,
     21.1, 21.0, 20.8],
    [21.2, 20.9, 21.2, 21.3, 21.5, 21.1, 20.9, 21.0, 21.2, 21.1, 21.2, 21.5, 21.4, 21.6, 21.7, 21.6, 21.5,
     21.7, 21.6, 21.5, 21.7, 21.7, 21.5, 21.4, 21.5, 21.4, 21.3, 21.5, 21.5, 21.5, 21.1, 21.5, 21.3, 21.3,
     21.1, 21.1, 20.9],
    [17.4, 20.4, 20.8, 25.0, 24.5, 21.1, 20.6, 21.1, 21.6, 21.7, 22.0, 21.5, 20.0, 19.7, 19.6, 19.3, 18.9,
     20.6, 20.2, 20.6, 20.4, 20.3, 20.0, 22.0, 23, 23, 23, 23, 23, 23, 23, 25, 27, 27, 28, 28, 0],
]
rocha_band_hi = [
    [26.9, 26.9, 26.8, 26.9, 26.9, 27.0, 26.9, 26.8, 27.0, 27.5, 27.1, 27.0, 27.1, 27.1, 26.9, 27.0, 26.8,
     27.3, 27.0, 26.8, 27.1, 27.1, 27.3, 27.4, 27.1, 27.3, 27.1, 26.9, 27.1, 27.0, 27.3, 27.0, 26.6, 26.9,
     27.1, 26.9, 26.8],
    [26.9, 26.8, 27.1, 27.3, 27.4, 27.0, 26.7, 26.8, 26.9, 26.8, 26.7, 27.1, 26.8, 27.6, 27.6, 27.6, 27.4,
     27.5, 27.1, 26.9, 27.0, 26.9, 27.0, 26.9, 26.9, 26.8, 26.6, 26.9, 26.9, 26.6, 26.2, 26.9, 26.4, 26.4,
     26.1, 26.4, 25.6],
    [21.0, 25.0, 25.2, 29.7, 29.1, 25.5, 24.6, 25.2, 25.6, 25.6, 25.9, 25.0, 23.8, 23.1, 23.0, 22.3, 21.5,
     23.0, 22.5, 22.4, 21.9, 21.7, 21.2, 23.1, 23.5, 23.2, 23.1, 23.1, 23.1, 23.1, 23.1, 25.1, 27.1, 27.1,
     28.1, 28.1, 0.2],
]
rocha_band_lo = [
    [13.9, 14.2, 13.6, 14.6, 14.4, 15.0, 14.2, 13.8, 14.4, 14.2, 13.9, 14.2, 14.4, 13.9, 14.0, 13.9, 13.7,
     13.7, 13.8, 14.0, 14.2, 14.4, 14.2, 14.0, 14.3, 14.9, 15.0, 14.8, 14.6, 14.4, 14.8, 14.9, 14.2, 14.6,
     15.1, 14.9, 14.8],
    [15.1, 14.9, 15.4, 15.0, 15.6, 15.4, 15.5, 15.6, 15.6, 15.5, 15.7, 15.6, 15.6, 15.8, 15.8, 15.7, 15.6,
     15.8, 15.8, 16.0, 16.1, 15.9, 15.8, 16.0, 16.2, 15.9, 15.8, 15.8, 16.0, 15.8, 15.6, 15.6, 15.9, 16.0,
     15.7, 15.9, 16.2],
    [12.6, 16.0, 16.2, 20.2, 20.0, 16.8, 16.3, 17.0, 17.5, 17.8, 18.0, 17.5, 16.3, 15.8, 16.2, 16.0, 16.0,
     18.3, 17.9, 18.5, 19.0, 18.9, 18.6, 21.5, 22.5, 22.8, 22.9, 22.9, 22.9, 22.9, 22.9, 24.9, 26.9, 26.9,
     27.9, 27.9, 0],
]
pred_diaz = [
    [15.7, 15.7, 15.6, 16.0, 15.8, 16.1, 16.2, 15.9, 16.6, 16.1, 16.4, 16.4, 16.0, 15.8, 16.0, 16.2, 16.3,
     16.0, 16.6, 16.5, 16.2, 15.7, 16.2, 15.8, 16.3, 16.4, 16.4, 16.3, 16.3, 15.9, 16.3, 16.7, 16.6, 16.4,
     16.7, 16.5, 16.4],
    [16.5, 16.8, 17.0, 16.9, 17.0, 16.8, 16.7, 16.8, 16.8, 16.7, 16.8, 17.0, 16.8, 16.6, 16.6, 16.6, 16.7,
     16.6, 16.3, 16.9, 16.5, 16.6, 16.8, 16.5, 16.7, 16.8, 16.5, 16.1, 16.4, 16.6, 17.0, 17.1, 16.9, 17.0,
     16.9, 16.8, 17.0],
    [14.2, 15.7, 14.9, 13.3, 12.7, 12.3, 11.9, 11.8, 12.1, 12.1, 11.7, 11.4, 10.9, 10.3, 10.5, 10.5, 10.8,
     10.6, 11.4, 11.6, 11.4, 11.2, 11.6, 11.4, 11.3, 11.2, 11.2, 11.0, 13, 13, 14, 15, 15, 15, 17, 17, 0],
]
diaz_band_hi = [
    [21.3, 21.3, 21.5, 21.6, 21.5, 21.6, 21.7, 21.6, 22.0, 21.6, 21.9, 21.9, 21.7, 21.6, 21.7, 22.1, 21.9,
     21.6, 22.3, 22.2, 22.0, 21.6, 21.8, 21.5, 21.6, 22.0, 21.9, 21.6, 21.8, 21.6, 22.0, 22.2, 22.0, 21.8,
     22.0, 21.9, 21.7],
    [21.8, 21.6, 22.1, 22.3, 22.3, 21.7, 21.6, 21.7, 21.7, 21.6, 21.6, 21.8, 21.7, 21.6, 21.6, 21.6, 21.7,
     21.5, 21.6, 21.0, 21.6, 21.3, 21.5, 21.6, 21.5, 21.6, 21.5, 21.1, 21.2, 20.9, 21.6, 21.7, 21.6, 21.5,
     21.3, 21.5, 22.1],
    [22.0, 19.7, 18.6, 16.5, 15.9, 15.5, 15.2, 15.0, 15.6, 15.6, 14.7, 14.7, 14.0, 13.5, 13.5, 13.2, 13.1,
     13.0, 13.6, 13.5, 12.8, 12.7, 12.6, 12.3, 11.9, 11.8, 11.8, 11.6, 13.1, 13.1, 14.1, 15.1, 15.1, 15.1,
     17.1, 17.1, 0.2],
]
diaz_band_lo = [
    [10.0, 10.1, 9.8, 10.7, 10.3, 10.4, 10.3, 10.3, 11.1, 10.5, 10.2, 10.6, 10.3, 10.3, 10.2, 10.2, 10.3,
     10.6, 10.8, 10.8, 10.5, 10.2, 10.5, 10.3, 10.9, 11.2, 11.0, 10.9, 10.9, 10.4, 11.0, 11.1, 10.9, 11.1,
     11.4, 11.0, 11.0],
    [11.0, 11.0, 11.6, 11.8, 11.6, 11.8, 11.8, 11.7, 11.7, 11.8, 11.8, 12.0, 11.8, 11.6, 11.4, 11.6, 11.8,
     11.6, 11.8, 11.9, 11.9, 11.9, 12.0, 11.8, 11.8, 11.9, 11.8, 11.4, 11.6, 11.8, 11.9, 11.9, 11.8, 11.9,
     11.8, 11.8, 10.0],
    [10.0, 12.0, 11.1, 9.6, 9.1, 8.9, 8.3, 8.3, 8.8, 8.6, 8.4, 7.9, 7.4, 7.1, 7.5, 7.9, 8.3, 8.2, 9.5,
     10.1, 10.0, 10.0, 10.7, 10.9, 10.9, 10.9, 10.8, 10.9, 12.9, 12.9, 13.9, 14.9, 14.9, 14.9, 16.9, 16.9, 0],
]

FIGHTERS = ["ALEXIS ROCHA", "JOSEPH DIAZ"]
FINAL_TRUTH = [28, 17]
FINAL_PRED = [16.6, 13.5]
EVENT_ID = 16185


def flat(rounds, name):
    """Join the three per-round lists into one array."""
    for i, r in enumerate(rounds):
        if len(r) != POINTS_PER_ROUND:
            raise ValueError(f"{name}: round {i} has {len(r)} points")
    return np.array([v for r in rounds for v in r], dtype=float)


def mark_rounds(ax):
    trans = mtransforms.blended_transform_factory(ax.transData, ax.transAxes)
    for start, name in zip(ROUND_STARTS, ROUND_NAMES):
        ax.axvline(start, color="gray", ls=":", lw=1.0, alpha=0.8, zorder=1)
        ax.text(start + 2, 0.97, name, transform=trans, ha="left", va="top",
                fontsize=12, color="#555555", alpha=0.9)


def plot_prob_panel(ax, time_s, series, title):
    for thr, color, (name, hi, lo) in zip(THRESHOLDS, LINE_COLORS, series):
        hi_v = flat(hi, name) / 100.0
        lo_v = flat(lo, name + "_lo") / 100.0
        ax.fill_between(time_s, lo_v, hi_v, color=color, alpha=0.1, lw=0)
        sns.lineplot(x=time_s, y=lo_v, ax=ax, color=color, lw=1.2, ls=":", alpha=0.75,
                     estimator=None, sort=False, legend=False)
        sns.lineplot(x=time_s, y=hi_v, ax=ax, color=color, lw=1.8, alpha=0.85,
                     estimator=None, sort=False, label=f"under {thr}")
    mark_rounds(ax)
    ax.set_ylim(0, 1.15)
    ax.set_yticks(np.round(np.arange(0, 1.151, 0.05), 2))
    ax.yaxis.set_major_formatter(matplotlib.ticker.FormatStrFormatter("%.2f"))
    ax.set_ylabel("Prob", fontsize=10.5, labelpad=10)
    ax.set_title(title, fontsize=15, pad=7)
    ax.grid(axis="y", color="#dddddd", lw=0.8)
    ax.set_axisbelow(True)
    ax.legend(loc="upper right", ncol=4, fontsize=9, framealpha=0.8)


def plot_count_panel(ax, time_s):
    r_hi = flat(rocha_band_hi, "rocha_band_hi")
    r_lo = flat(rocha_band_lo, "rocha_band_lo")
    d_hi = flat(diaz_band_hi, "diaz_band_hi")
    d_lo = flat(diaz_band_lo, "diaz_band_lo")
    ax.fill_between(time_s, r_lo, r_hi, color="red", alpha=0.14, lw=1)
    ax.fill_between(time_s, d_lo, d_hi, color="blue", alpha=0.12, lw=1)

    sns.lineplot(x=time_s, y=flat(truth_rocha, "truth_rocha"), ax=ax, color="red", lw=2.2,
                 alpha=0.75, estimator=None, sort=False,
                 label=f"Truth {FIGHTERS[0]}: {FINAL_TRUTH[0]}")
    sns.lineplot(x=time_s, y=flat(truth_diaz, "truth_diaz"), ax=ax, color="blue", lw=2.2,
                 alpha=0.75, estimator=None, sort=False,
                 label=f"Truth {FIGHTERS[1]}: {FINAL_TRUTH[1]}")
    sns.lineplot(x=time_s, y=flat(pred_rocha, "pred_rocha"), ax=ax, color="red", lw=2.0,
                 ls=":", alpha=0.6, estimator=None, sort=False,
                 label=f"Predicted {FIGHTERS[0]}: {FINAL_PRED[0]}")
    sns.lineplot(x=time_s, y=flat(pred_diaz, "pred_diaz"), ax=ax, color="blue", lw=2.0,
                 ls=":", alpha=0.6, estimator=None, sort=False,
                 label=f"Predicted {FIGHTERS[1]}: {FINAL_PRED[1]}")
    mark_rounds(ax)
    ax.set_ylabel("Count", fontsize=10.5, labelpad=10)
    ax.set_xlabel("Fight time (seconds)", fontsize=15, labelpad=12)
    ax.grid(axis="y", color="#dddddd", lw=0.8)
    ax.set_axisbelow(True)
    ax.legend(loc="upper left", fontsize=10.3, framealpha=0.8)


sns.set_style("ticks")
plt.rcParams["font.family"] = ["DejaVu Sans"]

time_s = np.array([start + STEP * k for start in ROUND_STARTS for k in range(POINTS_PER_ROUND)],
                  dtype=float)

rocha_series = [
    ("rocha_u45", rocha_u45, rocha_u45_lo), ("rocha_u75", rocha_u75, rocha_u75_lo),
    ("rocha_u105", rocha_u105, rocha_u105_lo), ("rocha_u135", rocha_u135, rocha_u135_lo),
    ("rocha_u165", rocha_u165, rocha_u165_lo), ("rocha_u195", rocha_u195, rocha_u195_lo),
    ("rocha_u225", rocha_u225, rocha_u225_lo), ("rocha_u255", rocha_u255, rocha_u255_lo),
    ("rocha_u285", rocha_u285, rocha_u285_lo),
]
diaz_series = [
    ("diaz_u45", diaz_u45, diaz_u45_lo), ("diaz_u75", diaz_u75, diaz_u75_lo),
    ("diaz_u105", diaz_u105, diaz_u105_lo), ("diaz_u135", diaz_u135, diaz_u135_lo),
    ("diaz_u165", diaz_u165, diaz_u165_lo), ("diaz_u195", diaz_u195, diaz_u195_lo),
    ("diaz_u225", diaz_u225, diaz_u225_lo), ("diaz_u255", diaz_u255, diaz_u255_lo),
    ("diaz_u285", diaz_u285, diaz_u285_lo),
]

fig, axes = plt.subplots(3, 1, figsize=(21, 15), dpi=100, sharex=True,
                         gridspec_kw={"height_ratios": [1.5, 1.5, 1.0], "hspace": 0.15})
fig.subplots_adjust(left=0.048, right=0.989, top=0.965, bottom=0.055)

title_tail = f"Total Strikes Landed R7 Under Leadup (R5-R7) (Event {EVENT_ID})"
plot_prob_panel(axes[0], time_s, rocha_series, f"{FIGHTERS[0]} \u2014 {title_tail}")
plot_prob_panel(axes[1], time_s, diaz_series, f"{FIGHTERS[1]} \u2014 {title_tail}")
plot_count_panel(axes[2], time_s)

for ax in axes:
    ax.tick_params(labelsize=9.5)
axes[2].set_xticks([700, 800, 900, 1000, 1100, 1200])
axes[2].set_xlim(695, 1288)
fig.align_ylabels(axes)

fig.savefig("out.png", dpi=100)
